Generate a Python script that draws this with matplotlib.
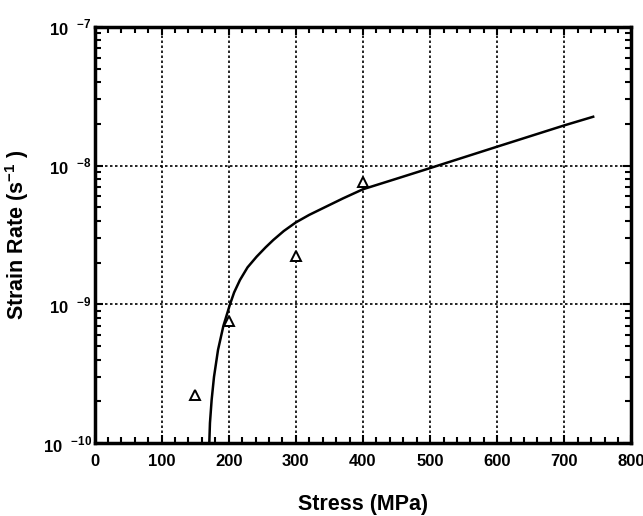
import numpy as np
import matplotlib
matplotlib.use('Agg')
import matplotlib.pyplot as plt
from matplotlib.ticker import MultipleLocator, LogLocator, FixedLocator

plt.rcParams['font.family'] = ['Liberation Sans', 'DejaVu Sans']
plt.rcParams['font.weight'] = 'bold'
plt.rcParams['mathtext.fontset'] = 'custom'
plt.rcParams['mathtext.rm'] = 'Liberation Sans:bold'
plt.rcParams['mathtext.bf'] = 'Liberation Sans:bold'

# fitted curve
curve_stress = [171, 172, 174.5, 178, 184, 192, 201.8, 208, 216.7, 228, 241.6, 255, 266.3, 282,
                300, 320, 340.8, 370, 400, 450, 500, 600, 700, 743]
curve_rate = [1e-10, 1.4e-10, 2.05e-10, 3e-10, 4.7e-10, 7e-10, 1e-9, 1.22e-9, 1.5e-9, 1.85e-9,
              2.21e-9, 2.58e-9, 2.91e-9, 3.38e-9, 3.9e-9, 4.42e-9, 4.95e-9, 5.8e-9, 6.76e-9,
              8.05e-9, 9.6e-9, 1.37e-8, 1.95e-8, 2.25e-8]

# measured points
pt_stress = [150, 200, 300, 400]
pt_rate = [2.22e-10, 7.6e-10, 2.24e-9, 7.6e-9]

ytick_vals = [1e-10, 1e-9, 1e-8, 1e-7]
ytick_labels = ['10  $^{-10}$', '10  $^{-9}$', '10  $^{-8}$', '10  $^{-7}$']

fig = plt.figure(figsize=(6.43, 5.16), dpi=100)
ax = fig.add_axes([0.147, 0.141, 0.835, 0.807])

ax.plot(curve_stress, curve_rate, color='black', linewidth=1.8)
ax.plot(pt_stress, pt_rate, linestyle='none', marker='^', markersize=7,
        markerfacecolor='white', markeredgecolor='black', markeredgewidth=1.4)

ax.set_yscale('log')
ax.set_xlim(0, 800)
ax.set_ylim(1e-10, 1e-7)

ax.xaxis.set_major_locator(MultipleLocator(100))
ax.xaxis.set_minor_locator(MultipleLocator(20))
ax.yaxis.set_major_locator(FixedLocator(ytick_vals))
ax.set_yticklabels(ytick_labels)
ax.yaxis.set_minor_locator(LogLocator(base=10, subs=np.arange(2, 10)))

ax.grid(True, which='major', color='black', linestyle=(0, (1.5, 1.5)), linewidth=1.2)

for s in ax.spines.values():
    s.set_linewidth(2.5)

ax.tick_params(which='both', direction='in', top=True, right=True, width=1.5)
ax.tick_params(which='major', length=6, labelsize=12)
ax.tick_params(axis='x', which='major', pad=8)
ax.tick_params(axis='y', which='major', pad=2)
ax.tick_params(which='minor', length=4)

ax.set_xlabel('Stress (MPa)', fontsize=15.5, fontweight='bold', labelpad=18)
ax.set_ylabel('Strain Rate (s$^{-1}$ )', fontsize=15.5, fontweight='bold', labelpad=8)

fig.savefig('out.png', dpi=100)
